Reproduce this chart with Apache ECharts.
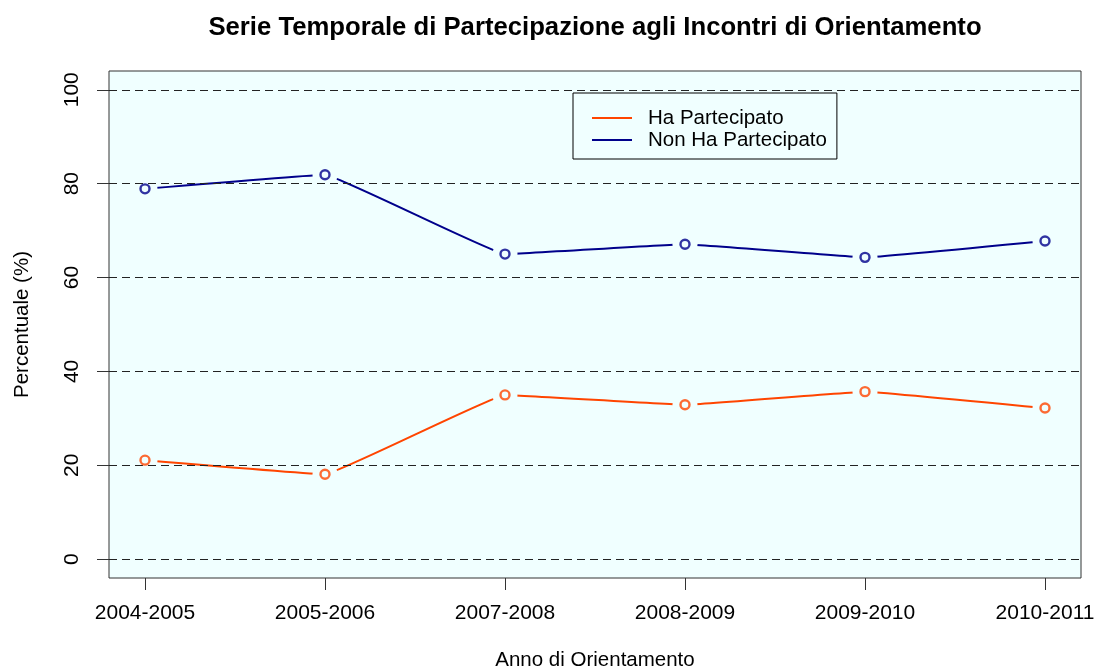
<!DOCTYPE html>
<html>
<head>
<meta charset="utf-8">
<script src="https://cdn.jsdelivr.net/npm/echarts@6/dist/echarts.min.js"></script>
<style>html,body{margin:0;padding:0;background:#fff;overflow:hidden}#c{width:1096px;height:668px}</style>
</head>
<body>
<div id="c"></div>
<script>
// values
const years = ["2004-2005","2005-2006","2007-2008","2008-2009","2009-2010","2010-2011"];
const haPartecipato = [21.1, 18.1, 35.0, 32.9, 35.7, 32.2];
const nonHaPartecipato = [78.9, 81.9, 65.0, 67.1, 64.3, 67.8];
const yTicks = [0, 20, 40, 60, 80, 100];
const xTicks = years.map((_, i) => i);

const ORANGE = "#ff4500", BLUE = "#00008b", BG = "#f0ffff";
const FONT = "Liberation Sans, Arial, sans-serif";
const pts = arr => arr.map((v, i) => [i, v]);

const lineSeries = (name, arr, color) => ({
  name, type: "line", data: pts(arr), smooth: 0.06, showSymbol: false, z: 2,
  lineStyle: { color, width: 2 }, itemStyle: { color }, silent: true
});
// background-coloured discs that open the gaps round each point, like R's type="b"
const gapSeries = arr => ({
  type: "scatter", data: pts(arr), symbol: "circle", symbolSize: 25, z: 4, silent: true,
  itemStyle: { color: BG, opacity: 1 }
});
const pointSeries = (arr, color) => ({
  type: "scatter", data: pts(arr), symbol: "circle", symbolSize: 9, z: 6, silent: true,
  itemStyle: { color: BG, borderColor: color, borderWidth: 2.4 }
});

const chart = echarts.init(document.getElementById("c"), null, { renderer: "canvas", width: 1096, height: 668 });
chart.setOption({
  animation: false,
  backgroundColor: "#fff",
  textStyle: { fontFamily: FONT },
  title: {
    text: "Serie Temporale di Partecipazione agli Incontri di Orientamento",
    left: 590, top: 10, textAlign: "center",
    textStyle: { fontFamily: FONT, fontSize: 25.7, fontWeight: "bold", color: "#000" }
  },
  legend: {
    data: ["Ha Partecipato", "Non Ha Partecipato"],
    orient: "vertical", left: 573, top: 93,
    padding: [14, 10, 8, 19], itemGap: 0,
    itemWidth: 40, itemHeight: 2, icon: "rect",
    borderColor: "#000", borderWidth: 1, backgroundColor: "transparent",
    textStyle: { fontFamily: FONT, fontSize: 20.5, color: "#000", lineHeight: 22, padding: [0, 0, 0, 11] }
  },
  grid: {
    left: 109, right: 15, top: 71, bottom: 90, outerBoundsMode: "none",
    show: true, backgroundColor: BG, borderColor: "#333", borderWidth: 1
  },
  xAxis: {
    type: "value", min: -0.2, max: 5.2,
    name: "Anno di Orientamento", nameLocation: "middle", nameGap: 72,
    nameTextStyle: { fontFamily: FONT, fontSize: 20.5, color: "#000" },
    axisLine: { show: false, onZero: false },
    axisTick: { show: true, length: 12, customValues: xTicks, lineStyle: { color: "#333", width: 1 } },
    axisLabel: { customValues: xTicks, margin: 25, fontFamily: FONT, fontSize: 21, color: "#000",
      formatter: v => years[Math.round(v)] },
    splitLine: { show: false }
  },
  yAxis: {
    type: "value", min: -4, max: 104, z: 5,
    name: "Percentuale (%)", nameLocation: "middle", nameGap: 76, nameRotate: 90,
    nameTextStyle: { fontFamily: FONT, fontSize: 20.5, color: "#000" },
    axisLine: { show: false, onZero: false },
    axisTick: { show: true, length: 12, customValues: yTicks, lineStyle: { color: "#333", width: 1 } },
    axisLabel: { customValues: yTicks, rotate: 90, margin: 26, fontFamily: FONT, fontSize: 21, color: "#000" },
    splitLine: { show: true, lineStyle: { color: "#222", width: 1, type: [8, 5] } }
  },
  series: [
    lineSeries("Ha Partecipato", haPartecipato, ORANGE),
    lineSeries("Non Ha Partecipato", nonHaPartecipato, BLUE),
    gapSeries(haPartecipato),
    gapSeries(nonHaPartecipato),
    pointSeries(haPartecipato, ORANGE),
    pointSeries(nonHaPartecipato, BLUE)
  ]
});
</script>
</body>
</html>
